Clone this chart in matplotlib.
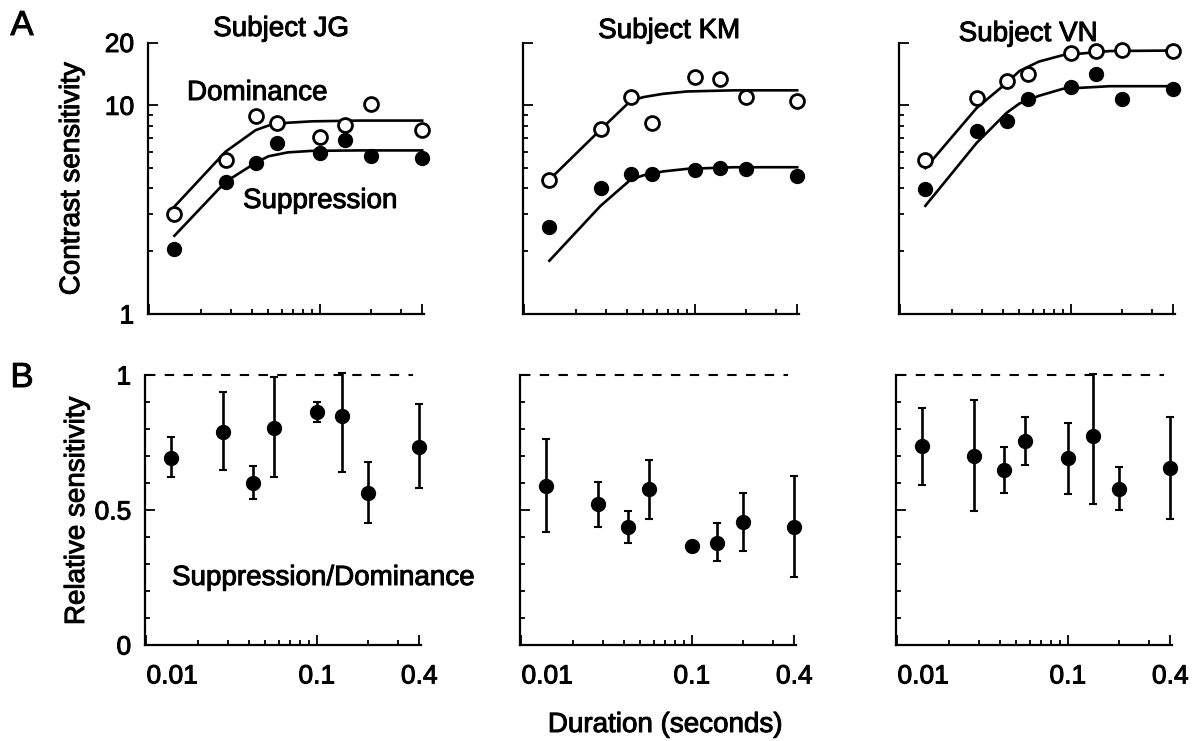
"""
Contrast sensitivity during dominance / suppression vs stimulus duration,
three subjects (A), and their ratio (B).
"""

import matplotlib
matplotlib.use("Agg")
import matplotlib.pyplot as plt
import matplotlib.patheffects as pe
from matplotlib.text import Text
from matplotlib.ticker import FixedLocator, NullFormatter, FixedFormatter

plt.rcParams["font.family"] = ["Liberation Sans", "DejaVu Sans"]

# ── Data ─────────────────────────────────────────────────────────
subjects = ["Subject JG", "Subject KM", "Subject VN"]
durations = [0.014, 0.028, 0.042, 0.056, 0.1, 0.14, 0.2, 0.4]

# panel A: measured contrast sensitivity
dom_jg = [3.02, 5.44, 8.85, 8.22, 7.04, 8.01, 10.2, 7.58]
sup_jg = [2.06, 4.28, 5.28, 6.59, 5.90, 6.79, 5.69, 5.61]
dom_km = [4.41, 7.73, 10.96, 8.23, 13.6, 13.4, 11.0, 10.5]
sup_km = [2.61, 4.03, 4.71, 4.71, 4.92, 5.02, 4.96, 4.60]
dom_vn = [5.45, 10.8, 13.1, 14.2, 17.8, 18.3, 18.5, 18.3]
sup_vn = [3.97, 7.50, 8.37, 10.7, 12.2, 14.1, 10.7, 12.0]

# panel A: fitted curves
fit_t = [0.014, 0.028, 0.042, 0.05, 0.065, 0.09, 0.17, 0.4]
fit_dom_jg = [3.27, 6.00, 7.60, 8.00, 8.25, 8.38, 8.45, 8.45]
fit_sup_jg = [2.37, 4.30, 5.30, 5.70, 5.95, 6.05, 6.08, 6.08]
fit_dom_km = [4.40, 7.65, 10.5, 10.95, 11.35, 11.65, 11.8, 11.8]
fit_sup_km = [1.80, 3.30, 4.40, 4.62, 4.82, 4.96, 5.05, 5.05]
fit_dom_vn = [5.00, 9.70, 12.8, 14.6, 16.2, 17.4, 18.2, 18.3]
fit_sup_vn = [3.30, 6.60, 9.20, 10.2, 11.1, 12.0, 12.35, 12.35]

# panel B: suppression / dominance ratio with error-bar ends
rel_jg = [0.694, 0.790, 0.601, 0.802, 0.864, 0.848, 0.564, 0.734]
rel_jg_lo = [0.623, 0.648, 0.541, 0.623, 0.827, 0.642, 0.453, 0.580]
rel_jg_hi = [0.769, 0.936, 0.664, 0.994, 0.901, 1.006, 0.679, 0.893]
rel_km = [0.589, 0.522, 0.436, 0.578, 0.367, 0.379, 0.454, 0.438]
rel_km_lo = [0.420, 0.438, 0.377, 0.467, 0.367, 0.311, 0.348, 0.251]
rel_km_hi = [0.762, 0.605, 0.496, 0.685, 0.367, 0.451, 0.564, 0.627]
rel_vn = [0.737, 0.701, 0.648, 0.756, 0.691, 0.775, 0.577, 0.657]
rel_vn_lo = [0.593, 0.496, 0.564, 0.667, 0.559, 0.522, 0.500, 0.466]
rel_vn_hi = [0.879, 0.907, 0.732, 0.846, 0.821, 1.003, 0.660, 0.846]

# ── Layout (pixels of the 1201x741 canvas) ───────────────────────
W, H = 1201, 741
TOP_LEFT = [148, 523, 899]
BOT_LEFT = [145, 520, 896]
AX_W = 276
XLIM = (0.0098, 0.41)


def add_ax(fig, x0, y0, w, h):
    return fig.add_axes([x0 / W, 1 - (y0 + h) / H, w / W, h / H])


def style(ax):
    for side in ("top", "right"):
        ax.spines[side].set_visible(False)
    for side in ("left", "bottom"):
        ax.spines[side].set_linewidth(1.6)
    ax.set_xscale("log")
    ax.set_xlim(*XLIM)
    ax.xaxis.set_major_locator(FixedLocator([0.01, 0.1, 0.4]))
    ax.xaxis.set_minor_locator(FixedLocator(
        [0.02, 0.03, 0.04, 0.05, 0.06, 0.07, 0.08, 0.09, 0.2, 0.3]))
    ax.xaxis.set_minor_formatter(NullFormatter())
    ax.tick_params(which="both", direction="in", width=1.3, labelsize=19)
    ax.tick_params(which="major", length=7)
    ax.tick_params(which="minor", length=3.5)
    ax.tick_params(axis="x", pad=14)
    ax.tick_params(axis="y", pad=10)


fig = plt.figure(figsize=(W / 100, H / 100), dpi=100)

top_data = [
    (dom_jg, sup_jg, fit_dom_jg, fit_sup_jg),
    (dom_km, sup_km, fit_dom_km, fit_sup_km),
    (dom_vn, sup_vn, fit_dom_vn, fit_sup_vn),
]
bot_data = [
    (rel_jg, rel_jg_lo, rel_jg_hi),
    (rel_km, rel_km_lo, rel_km_hi),
    (rel_vn, rel_vn_lo, rel_vn_hi),
]

for i in range(3):
    # ── A: contrast sensitivity ──
    ax = add_ax(fig, TOP_LEFT[i], 42.5, AX_W, 271.5)
    style(ax)
    dom, sup, fdom, fsup = top_data[i]
    ax.plot(fit_t, fdom, color="black", lw=1.9, solid_joinstyle="round")
    ax.plot(fit_t, fsup, color="black", lw=1.9, solid_joinstyle="round")
    ax.plot(durations, dom, "o", ms=10, mfc="white", mec="black", mew=2,
            clip_on=False, zorder=3)
    ax.plot(durations, sup, "o", ms=10, color="black", clip_on=False, zorder=3)
    ax.set_yscale("log")
    ax.set_ylim(1, 20)
    ax.yaxis.set_major_locator(FixedLocator([1, 10, 20]))
    ax.yaxis.set_minor_locator(FixedLocator([2, 3, 4, 5, 6, 7, 8, 9]))
    ax.yaxis.set_minor_formatter(NullFormatter())
    ax.xaxis.set_major_formatter(NullFormatter())
    if i == 0:
        ax.yaxis.set_major_formatter(FixedFormatter(["1", "10", "20"]))
    else:
        ax.yaxis.set_major_formatter(NullFormatter())

    # ── B: relative sensitivity ──
    ax = add_ax(fig, BOT_LEFT[i], 375, AX_W, 270)
    style(ax)
    rel, lo, hi = bot_data[i]
    yerr = [[r - l for r, l in zip(rel, lo)], [h - r for r, h in zip(rel, hi)]]
    ax.plot([0.01, 0.37], [1, 1], color="black", lw=1.5, ls=(0, (4.5, 4.5)),
            clip_on=False)
    ax.errorbar(durations, rel, yerr=yerr, fmt="o", ms=10, color="black",
                elinewidth=1.9, capsize=3, capthick=1.5, clip_on=False, zorder=3)
    ax.set_ylim(0, 1)
    ax.yaxis.set_major_locator(FixedLocator([0, 0.5, 1]))
    ax.yaxis.set_minor_locator(FixedLocator([0.1, 0.2, 0.3, 0.4, 0.6, 0.7, 0.8, 0.9]))
    ax.yaxis.set_minor_formatter(NullFormatter())
    ax.xaxis.set_major_formatter(FixedFormatter(["0.01", "0.1", "0.4"]))
    ax.get_xticklabels()[0].set_horizontalalignment("left")
    if i == 0:
        ax.yaxis.set_major_formatter(FixedFormatter(["0", "0.5", "1"]))
    else:
        ax.yaxis.set_major_formatter(NullFormatter())

# ── Labels ───────────────────────────────────────────────────────
def ftext(x, y, s, **kw):
    kw.setdefault("fontsize", 20)
    fig.text(x / W, 1 - y / H, s, **kw)


ftext(22, 35, "A", fontsize=25, ha="center", va="baseline")
ftext(22, 387, "B", fontsize=25, ha="center", va="baseline")
for cx, by, name in zip([281, 669, 1028], [36, 38, 41], subjects):
    ftext(cx, by, name, ha="center", va="baseline")
ftext(187, 100, "Dominance", ha="left", va="baseline")
ftext(243, 208, "Suppression", ha="left", va="baseline")
ftext(172, 585, "Suppression/Dominance", ha="left", va="baseline")
ftext(72, 179, "Contrast sensitivity", rotation=90, ha="center", va="center")
ftext(77, 511, "Relative sensitivity", rotation=90, ha="center", va="center")
ftext(665, 732, "Duration (seconds)", ha="center", va="baseline")

# scanned print looks a touch heavier than the regular face
for t in fig.findobj(Text):
    t.set_path_effects([pe.withStroke(linewidth=0.7, foreground="black")])

fig.savefig("out.png", dpi=100)
